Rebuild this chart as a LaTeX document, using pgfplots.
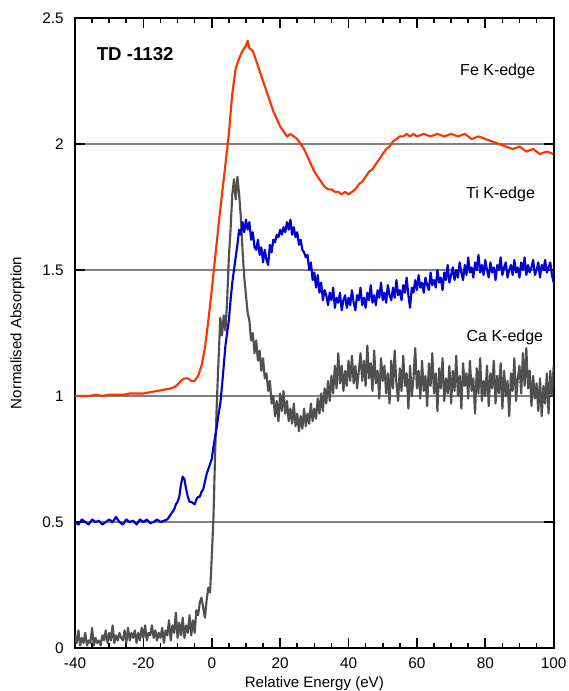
\documentclass[border=0pt]{standalone}
\usepackage{pgfplots}
\pgfplotsset{compat=1.18}
\usepackage{fontspec}
\setmainfont{Liberation Sans}

\definecolor{feorange}{RGB}{255,51,0}
\definecolor{tiblue}{RGB}{0,0,210}
\definecolor{cagray}{RGB}{80,80,80}

\begin{document}
\begin{tikzpicture}
\begin{axis}[
  scale only axis,
  width=359pt, height=472.5pt,
  xmin=-40, xmax=100, ymin=0, ymax=2.5,
  xtick={-40,-20,...,100}, minor x tick num=3,
  ytick={0,0.5,1,1.5,2,2.5},
  yticklabels={0,0.5,1,1.5,2,2.5},
  /pgf/number format/assume math mode=true,
  tick align=inside,
  major tick length=7.5pt, minor tick length=4pt,
  every tick/.style={black, line width=1.2pt},
  axis line style={black, line width=1.5pt},
  ymajorgrids, grid style={gray, line width=1.5pt},
  ticklabel style={font=\fontsize{11.5}{13}\selectfont},
  yticklabel style={xshift=-5pt},
  xticklabel style={yshift=-3.5pt},
  label style={font=\fontsize{11.3}{13}\selectfont},
  xlabel={Relative Energy (eV)},
  ylabel={Normalised Absorption},
  xlabel style={at={(axis description cs:0.5,-0.057)}, anchor=center},
  ylabel style={at={(axis description cs:-0.12,0.5)}, anchor=center},
  every axis plot/.append style={line width=1.6pt, line join=round, no marks},
]
\coordinate (sw) at (rel axis cs:0,0);
\coordinate (ne) at (rel axis cs:1,1);

% Ca K-edge
\addplot[cagray] coordinates {
(-40,0.05) (-39.5,0.02) (-39,0.07) (-38.5,0.01) (-38,0.04) (-37.5,0.02) (-37,0.06) (-36.5,0.01)
(-36,0.03) (-35.5,0.02) (-35,0.08) (-34.5,0.01) (-34,0.04) (-33.5,0.02) (-33,0.03) (-32.5,0.01)
(-32,0.05) (-31.5,0.03) (-31,0.07) (-30.5,0.02) (-30,0.06) (-29.5,0.03) (-29,0.09) (-28.5,0.02)
(-28,0.05) (-27.5,0.03) (-27,0.06) (-26.5,0.04) (-26,0.03) (-25.5,0.07) (-25,0.02) (-24.5,0.08)
(-24,0.03) (-23.5,0.06) (-23,0.04) (-22.5,0.07) (-22,0.02) (-21.5,0.06) (-21,0.03) (-20.5,0.08)
(-20,0.04) (-19.5,0.09) (-19,0.03) (-18.5,0.06) (-18,0.05) (-17.5,0.09) (-17,0.04) (-16.5,0.07)
(-16,0.03) (-15.5,0.06) (-15,0.04) (-14.5,0.08) (-14,0.02) (-13.5,0.07) (-13,0.05) (-12.5,0.11)
(-12,0.03) (-11.5,0.09) (-11,0.06) (-10.5,0.14) (-10,0.04) (-9.5,0.10) (-9,0.05) (-8.5,0.12)
(-8,0.04) (-7.5,0.09) (-7,0.06) (-6.5,0.13) (-6,0.05) (-5.5,0.11) (-5,0.06) (-4.5,0.15)
(-4,0.13) (-3.5,0.18) (-3,0.20) (-2.5,0.16) (-2,0.12) (-1.5,0.19) (-1,0.24) (-0.5,0.22)
(0,0.36) (0.5,0.52) (1,0.78) (1.5,0.98) (2,1.15) (2.5,1.31) (3,1.24) (3.5,1.32)
(4,1.26) (4.5,1.38) (5,1.55) (5.5,1.66) (6,1.80) (6.5,1.86) (7,1.78) (7.5,1.87)
(8,1.80) (8.5,1.71) (9,1.58) (9.5,1.47) (10,1.40) (10.5,1.33) (11,1.30) (11.5,1.22)
(12,1.25) (12.5,1.17) (13,1.22) (13.5,1.14) (14,1.18) (14.5,1.10) (15,1.15) (15.5,1.07)
(16,1.09) (16.5,1.02) (17,1.06) (17.5,0.97) (18,1.00) (18.5,0.92) (19,0.98) (19.5,0.90)
(20,1.01) (20.5,0.94) (21,1.02) (21.5,0.93) (22,0.98) (22.5,0.90) (23,0.95) (23.5,0.89)
(24,0.97) (24.5,0.88) (25,0.93) (25.5,0.86) (26,0.92) (26.5,0.87) (27,0.95) (27.5,0.88)
(28,0.93) (28.5,0.89) (29,0.97) (29.5,0.90) (30,0.95) (30.5,0.91) (31,0.99) (31.5,0.93)
(32,1.01) (32.5,0.94) (33,1.03) (33.5,0.97) (34,1.06) (34.5,0.98) (35,1.08) (35.5,1.01)
(36,1.12) (36.5,1.03) (37,1.17) (37.5,1.05) (38,1.12) (38.5,1.02) (39,1.10) (39.5,1.04)
(40,1.14) (40.5,1.06) (41,1.16) (41.5,1.05) (42,1.12) (42.5,1.03) (43,1.10) (43.5,1.17)
(44,1.06) (44.5,1.14) (45,1.04) (45.5,1.20) (46,1.07) (46.5,1.13) (47,1.02) (47.5,1.18)
(48,1.05) (48.5,1.10) (49,0.99) (49.5,1.15) (50,1.06) (50.5,1.12) (51,1.01) (51.5,1.09)
(52,0.97) (52.5,1.14) (53,1.03) (53.5,1.18) (54,1.05) (54.5,0.98) (55,1.11) (55.5,1.02)
(56,1.16) (56.5,1.04) (57,1.09) (57.5,0.95) (58,1.12) (58.5,1.00) (59,1.07) (59.5,1.19)
(60,1.03) (60.5,1.10) (61,0.99) (61.5,1.14) (62,1.02) (62.5,1.08) (63,0.96) (63.5,1.13)
(64,1.04) (64.5,1.17) (65,1.01) (65.5,1.09) (66,0.94) (66.5,1.11) (67,1.03) (67.5,1.15)
(68,0.98) (68.5,1.07) (69,1.01) (69.5,1.12) (70,0.97) (70.5,1.10) (71,1.02) (71.5,1.16)
(72,1.00) (72.5,1.08) (73,0.95) (73.5,1.13) (74,1.04) (74.5,1.09) (75,0.99) (75.5,1.14)
(76,1.02) (76.5,1.07) (77,0.93) (77.5,1.11) (78,1.01) (78.5,1.15) (79,0.98) (79.5,1.06)
(80,1.00) (80.5,1.12) (81,0.96) (81.5,1.09) (82,1.03) (82.5,1.14) (83,0.97) (83.5,1.08)
(84,1.01) (84.5,1.13) (85,0.95) (85.5,1.10) (86,1.00) (86.5,1.06) (87,0.92) (87.5,1.09)
(88,1.02) (88.5,1.15) (89,0.98) (89.5,1.07) (90,1.12) (90.5,1.01) (91,1.17) (91.5,1.04)
(92,1.19) (92.5,1.03) (93,1.10) (93.5,0.96) (94,1.08) (94.5,0.99) (95,1.05) (95.5,0.94)
(96,1.07) (96.5,0.92) (97,1.04) (97.5,0.97) (98,1.09) (98.5,0.93) (99,1.10) (99.5,1.00)
(100,1.12)
};

% Ti K-edge
\addplot[tiblue] coordinates {
(-40,0.50) (-39,0.49) (-38,0.51) (-37,0.50) (-36,0.49) (-35,0.51) (-34,0.50) (-33,0.505)
(-32,0.49) (-31,0.50) (-30,0.51) (-29,0.50) (-28,0.52) (-27,0.50) (-26,0.49) (-25,0.51)
(-24,0.50) (-23,0.505) (-22,0.49) (-21,0.51) (-20,0.50) (-19,0.51) (-18,0.495) (-17,0.50)
(-16,0.51) (-15,0.50) (-14,0.505) (-13,0.51) (-12,0.53) (-11,0.55) (-10.5,0.57) (-10,0.58)
(-9.5,0.60) (-9,0.65) (-8.5,0.68) (-8,0.67) (-7.5,0.63) (-7,0.60) (-6.5,0.58) (-6,0.58)
(-5.5,0.575) (-5,0.57) (-4.5,0.59) (-4,0.60) (-3.5,0.60) (-3,0.62) (-2.5,0.63) (-2,0.66)
(-1.5,0.69) (-1,0.71) (-0.5,0.73) (0,0.75) (0.5,0.80) (1,0.84) (1.5,0.88) (2,0.93)
(2.5,0.97) (3,1.04) (3.5,1.12) (4,1.20) (4.5,1.25) (5,1.30) (5.5,1.38) (6,1.45)
(6.5,1.50) (7,1.55) (7.5,1.60) (8,1.66) (8.5,1.64) (9,1.69) (9.5,1.65) (10,1.70)
(10.5,1.66) (11,1.69) (11.5,1.62) (12,1.65) (12.5,1.59) (13,1.58) (13.5,1.62) (14,1.56)
(14.5,1.59) (15,1.53) (15.5,1.58) (16,1.54) (16.5,1.52) (17,1.60) (17.5,1.57) (18,1.62)
(18.5,1.61) (19,1.64) (19.5,1.63) (20,1.66) (20.5,1.64) (21,1.67) (21.5,1.65) (22,1.69)
(22.5,1.66) (23,1.70) (23.5,1.64) (24,1.67) (24.5,1.63) (25,1.65) (25.5,1.60) (26,1.62)
(26.5,1.58) (27,1.57) (27.5,1.55) (28,1.56) (28.5,1.50) (29,1.53) (29.5,1.46) (30,1.49)
(30.5,1.43) (31,1.48) (31.5,1.41) (32,1.45) (32.5,1.38) (33,1.42) (33.5,1.40) (34,1.36)
(34.5,1.41) (35,1.38) (35.5,1.43) (36,1.35) (36.5,1.39) (37,1.37) (37.5,1.41) (38,1.34)
(38.5,1.38) (39,1.40) (39.5,1.35) (40,1.39) (40.5,1.36) (41,1.42) (41.5,1.37) (42,1.34)
(42.5,1.40) (43,1.38) (43.5,1.43) (44,1.36) (44.5,1.39) (45,1.35) (45.5,1.41) (46,1.38)
(46.5,1.44) (47,1.37) (47.5,1.40) (48,1.36) (48.5,1.42) (49,1.39) (49.5,1.45) (50,1.38)
(50.5,1.41) (51,1.37) (51.5,1.44) (52,1.40) (52.5,1.38) (53,1.43) (53.5,1.39) (54,1.46)
(54.5,1.40) (55,1.42) (55.5,1.38) (56,1.44) (56.5,1.41) (57,1.47) (57.5,1.40) (58,1.35)
(58.5,1.43) (59,1.41) (59.5,1.46) (60,1.42) (60.5,1.48) (61,1.43) (61.5,1.45) (62,1.41)
(62.5,1.47) (63,1.44) (63.5,1.42) (64,1.49) (64.5,1.44) (65,1.46) (65.5,1.43) (66,1.50)
(66.5,1.45) (67,1.47) (67.5,1.42) (68,1.49) (68.5,1.46) (69,1.52) (69.5,1.45) (70,1.48)
(70.5,1.51) (71,1.46) (71.5,1.50) (72,1.47) (72.5,1.53) (73,1.49) (73.5,1.46) (74,1.52)
(74.5,1.48) (75,1.55) (75.5,1.49) (76,1.51) (76.5,1.47) (77,1.53) (77.5,1.50) (78,1.56)
(78.5,1.49) (79,1.52) (79.5,1.48) (80,1.54) (80.5,1.50) (81,1.47) (81.5,1.53) (82,1.49)
(82.5,1.51) (83,1.46) (83.5,1.52) (84,1.50) (84.5,1.55) (85,1.48) (85.5,1.51) (86,1.53)
(86.5,1.47) (87,1.50) (87.5,1.52) (88,1.48) (88.5,1.54) (89,1.49) (89.5,1.51) (90,1.47)
(90.5,1.53) (91,1.50) (91.5,1.55) (92,1.48) (92.5,1.52) (93,1.49) (93.5,1.51) (94,1.54)
(94.5,1.48) (95,1.50) (95.5,1.53) (96,1.47) (96.5,1.52) (97,1.50) (97.5,1.54) (98,1.49)
(98.5,1.51) (99,1.53) (99.5,1.48) (100,1.45)
};

% Fe K-edge
\addplot[feorange] coordinates {
(-40,1.00) (-38,1.00) (-36,1.00) (-34,1.005) (-32,1.00) (-30,1.005) (-28,1.005) (-26,1.005)
(-24,1.01) (-22,1.01) (-20,1.01) (-18,1.015) (-16,1.02) (-14,1.025) (-12,1.03) (-11,1.035)
(-10,1.045) (-9,1.06) (-8,1.07) (-7,1.07) (-6,1.06) (-5,1.06) (-4,1.08) (-3,1.12)
(-2,1.19) (-1,1.30) (0,1.42) (1,1.55) (2,1.68) (3,1.80) (4,1.92) (5,2.04)
(6,2.20) (7,2.30) (8,2.34) (9,2.37) (10,2.39) (10.5,2.41) (11,2.38) (12,2.37)
(13,2.33) (14,2.29) (15,2.25) (16,2.21) (17,2.17) (18,2.13) (19,2.10) (20,2.07)
(21,2.05) (22,2.03) (23,2.04) (24,2.03) (25,2.02) (26,2.00) (27,1.98) (28,1.95)
(29,1.92) (30,1.89) (31,1.87) (32,1.85) (33,1.83) (34,1.82) (35,1.82) (36,1.81)
(37,1.81) (38,1.80) (39,1.81) (40,1.80) (41,1.81) (42,1.82) (43,1.84) (44,1.85)
(45,1.87) (46,1.89) (47,1.90) (48,1.92) (49,1.94) (50,1.96) (51,1.98) (52,1.99)
(53,2.01) (54,2.02) (55,2.03) (56,2.03) (57,2.04) (58,2.03) (59,2.04) (60,2.03)
(62,2.04) (64,2.03) (66,2.04) (68,2.03) (70,2.04) (72,2.03) (74,2.04) (76,2.02)
(78,2.03) (80,2.02) (82,2.01) (84,2.00) (86,1.99) (88,1.98) (90,1.99) (92,1.97)
(94,1.98) (96,1.96) (98,1.97) (100,1.96)
};

\node[anchor=west, font=\fontsize{14}{16}\selectfont\bfseries] at (axis cs:-35,2.357) {TD -1132};
\node[anchor=east, font=\fontsize{12}{14}\selectfont] at (axis cs:95.9,2.29) {Fe K-edge};
\node[anchor=east, font=\fontsize{12}{14}\selectfont] at (axis cs:95.9,1.80) {Ti K-edge};
\node[anchor=east, font=\fontsize{12}{14}\selectfont] at (axis cs:98.3,1.234) {Ca K-edge};
\end{axis}
\pgfresetboundingbox
\path ([shift={(-56.25pt,-32.25pt)}]sw) rectangle ([shift={(11.25pt,13.5pt)}]ne);
\end{tikzpicture}
\end{document}
